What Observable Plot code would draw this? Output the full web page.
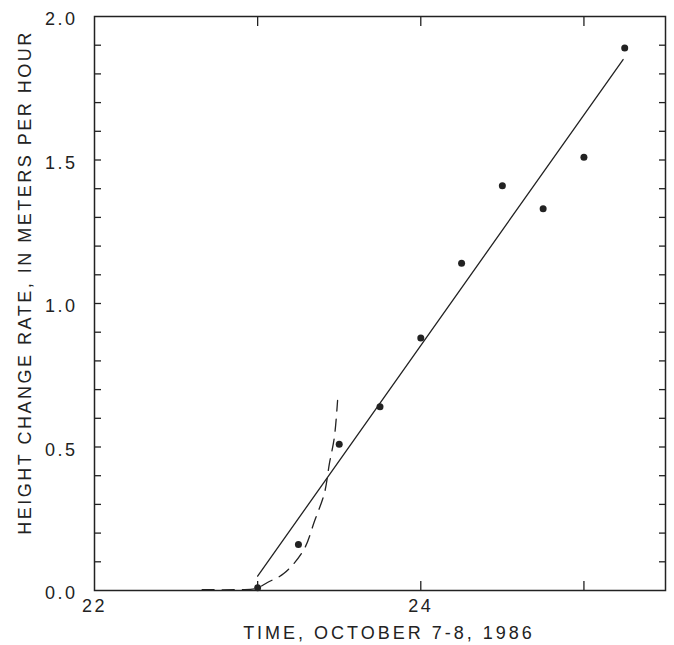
<!DOCTYPE html>
<html>
<head>
<meta charset="utf-8">
<script src="https://cdn.jsdelivr.net/npm/d3@7"></script>
<script src="https://cdn.jsdelivr.net/npm/@observablehq/plot@0.6"></script>
<style>
  body { margin: 0; background: #ffffff; }
</style>
</head>
<body>
<div id="chart"></div>
<script>
// Observed height-change rates (points), every 15 minutes
const obsTime = [23.0, 23.25, 23.5, 23.75, 24.0, 24.25, 24.5, 24.75, 25.0, 25.25];
const obsRate = [0.01, 0.16, 0.51, 0.64, 0.88, 1.14, 1.41, 1.33, 1.51, 1.89];

// Straight-line fit (solid)
const fitTime = [23.0, 25.24];
const fitRate = [0.05, 1.85];

// Early curve (dashed)
const curveTime = [22.66, 22.89, 22.99, 23.06, 23.16, 23.28, 23.35, 23.41, 23.44, 23.47, 23.49];
const curveRate = [0.003, 0.003, 0.007, 0.028, 0.059, 0.139, 0.244, 0.341, 0.443, 0.533, 0.662];

// Axes
const xLabelTicks = [22, 24];
const xMarkTicks = [23, 24, 25];
const yLabelTicks = [0.0, 0.5, 1.0, 1.5, 2.0];
const yMarkTicks = [0.1, 0.2, 0.3, 0.4, 0.5, 0.6, 0.7, 0.8, 0.9, 1.0, 1.1, 1.2, 1.3, 1.4, 1.5, 1.6, 1.7, 1.8, 1.9];
const xTitle = "TIME, OCTOBER 7-8, 1986";
const yTitle = "HEIGHT CHANGE RATE, IN METERS PER HOUR";

const points = obsTime.map((t, i) => ({t, r: obsRate[i]}));
const fit = fitTime.map((t, i) => ({t, r: fitRate[i]}));
const curve = curveTime.map((t, i) => ({t, r: curveRate[i]}));

const ink = "#222";

const chart = Plot.plot({
  width: 674,
  height: 645,
  marginLeft: 94,
  marginRight: 9,
  marginTop: 16,
  marginBottom: 55,
  style: {fontFamily: "'Liberation Sans', Arial, sans-serif", fontSize: "18px", color: ink, background: "#ffffff"},
  x: {domain: [22, 25.5]},
  y: {domain: [0, 2]},
  marks: [
    Plot.frame({stroke: ink, strokeWidth: 1.5}),
    // inward tick marks
    Plot.axisX({ticks: xMarkTicks, anchor: "bottom", tickSize: -9, text: null, label: null, stroke: ink, strokeWidth: 1.3}),
    Plot.axisX({ticks: xMarkTicks, anchor: "top", tickSize: -9, text: null, label: null, stroke: ink, strokeWidth: 1.3}),
    Plot.axisY({ticks: yMarkTicks, anchor: "left", tickSize: -7, text: null, label: null, stroke: ink, strokeWidth: 1.3}),
    Plot.axisY({ticks: yMarkTicks, anchor: "right", tickSize: -7, text: null, label: null, stroke: ink, strokeWidth: 1.3}),
    // tick labels
    Plot.axisX({ticks: xLabelTicks, anchor: "bottom", tickSize: 0, tickPadding: 9, tickFormat: d => String(d), label: null, fill: ink}),
    Plot.axisY({ticks: yLabelTicks, anchor: "left", tickSize: 0, tickPadding: 17, tickFormat: d3.format(".1f"), label: null, fill: ink, dy: 3}),
    // titles
    Plot.text([xTitle], {text: d => d, frameAnchor: "bottom", textAnchor: "middle", dy: 43, dx: 9, fill: ink, lineAnchor: "middle"}),
    Plot.text([yTitle], {text: d => d, frameAnchor: "left", textAnchor: "middle", rotate: -90, dx: -69, dy: -21, fill: ink, fontSize: 18, lineAnchor: "middle"}),
    // data
    Plot.line(curve, {x: "t", y: "r", stroke: ink, strokeWidth: 1.3, strokeDasharray: "12,8", curve: "catmull-rom"}),
    Plot.line(fit, {x: "t", y: "r", stroke: ink, strokeWidth: 1.3}),
    Plot.dot(points, {x: "t", y: "r", r: 3.5, fill: ink, stroke: "none"})
  ]
});

const svg = d3.select(chart);
svg.selectAll("text").style("letter-spacing", "2.5px");
svg.selectAll("text").filter(function() { return this.textContent === xTitle; }).style("letter-spacing", "3px");

document.getElementById("chart").append(chart);
</script>
</body>
</html>
